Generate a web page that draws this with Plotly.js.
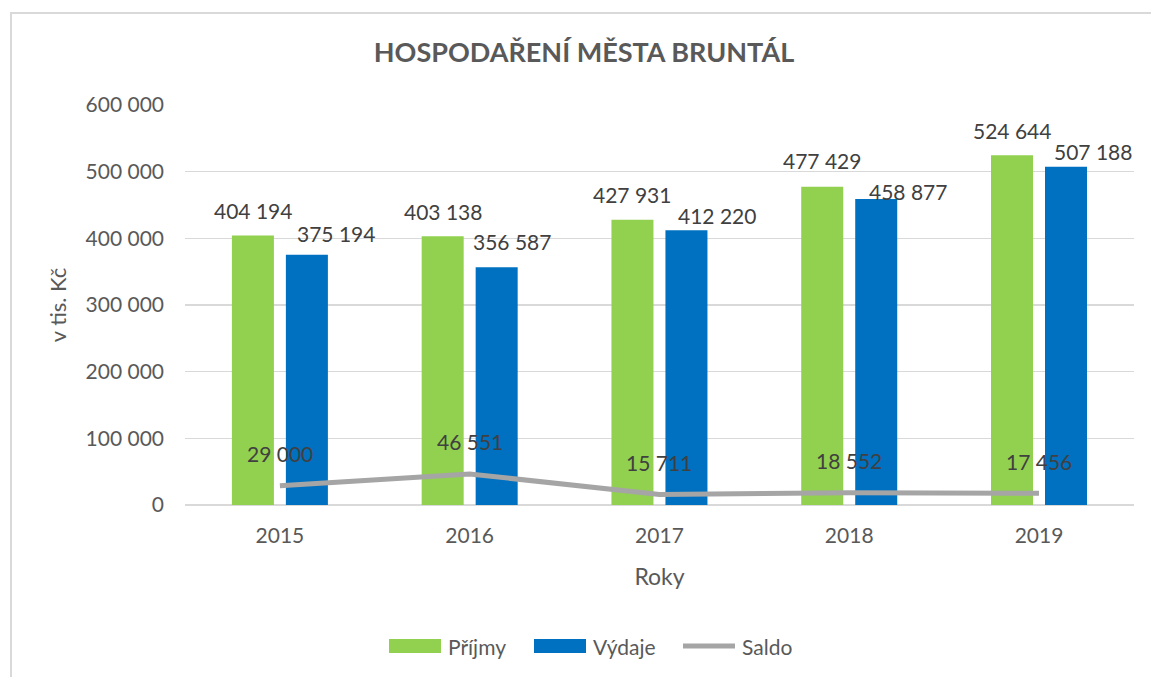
<!DOCTYPE html>
<html>
<head>
<meta charset="utf-8">
<script src="https://cdn.plot.ly/plotly-3.0.1.min.js"></script>
<style>
  html, body { margin: 0; padding: 0; background: #fff; overflow: hidden; }
  #wrap { position: relative; width: 1151px; height: 677px; }
  #chart { width: 1151px; height: 677px; }
  #frame { position: absolute; left: 10px; top: 12px; width: 1200px; height: 700px;
           border-left: 2px solid #D9D9D9; border-top: 2px solid #D9D9D9; pointer-events: none; }
</style>
</head>
<body>
<div id="wrap">
  <div id="chart"></div>
  <div id="frame"></div>
</div>
<script>
// ---- data ----
const years  = ['2015', '2016', '2017', '2018', '2019'];
const prijmy = [404194, 403138, 427931, 477429, 524644];
const vydaje = [375194, 356587, 412220, 458877, 507188];
const saldo  = [29000, 46551, 15711, 18552, 17456];
const yTicks = [0, 100000, 200000, 300000, 400000, 500000, 600000];
const seriesNames = ['Příjmy', 'Výdaje', 'Saldo'];

// ---- styling / label placement (not data) ----
const FONT = 'Lato, "Open Sans", sans-serif';
const GREEN = '#92D050', BLUE = '#0070C0', GRAY = '#A5A5A5';
const M = { l: 185, r: 17, t: 105, b: 172 };
const W = 1151, H = 677;
const PW = W - M.l - M.r, PH = H - M.t - M.b;
const bargap = 0.431, bargroupgap = 0.222;
const barOffset = (1 - bargap) / 4;            // category units, centre of each bar in its group
const greenLabelShift = [25, 25, 25, 26, 24.5];
const blueLabelShiftY = [21, 26, 15, 8, 15.5];
const blueLabelShiftX = [29, 15, 31, 32, 27];
const saldoLabelShift = 32;

function fmt(v) { return String(v).replace(/\B(?=(\d{3})+(?!\d))/g, ' '); }
function px2x(px) { return (px - M.l) / PW; }
function px2y(py) { return (H - M.b - py) / PH; }

const traces = [
  { type: 'bar', name: seriesNames[0], x: years, y: prijmy, marker: { color: GREEN }, hoverinfo: 'skip' },
  { type: 'bar', name: seriesNames[1], x: years, y: vydaje, marker: { color: BLUE }, hoverinfo: 'skip' },
  { type: 'scatter', mode: 'lines', name: seriesNames[2], x: years, y: saldo,
    line: { color: GRAY, width: 5 }, hoverinfo: 'skip' }
];

const labelFont = { family: FONT, size: 21, color: '#404040' };
const annotations = [];
years.forEach((yr, i) => {
  annotations.push({ x: i - barOffset, y: prijmy[i], xref: 'x', yref: 'y', text: fmt(prijmy[i]),
    showarrow: false, yanchor: 'middle', xanchor: 'center', yshift: greenLabelShift[i], font: labelFont });
  annotations.push({ x: i + barOffset, y: vydaje[i], xref: 'x', yref: 'y', text: fmt(vydaje[i]),
    showarrow: false, yanchor: 'middle', xanchor: 'center', yshift: blueLabelShiftY[i],
    xshift: blueLabelShiftX[i], font: labelFont });
  annotations.push({ x: i, y: saldo[i], xref: 'x', yref: 'y', text: fmt(saldo[i]),
    showarrow: false, yanchor: 'middle', xanchor: 'center', yshift: saldoLabelShift, font: labelFont });
});

// ---- custom legend (Excel-style wide keys) ----
const legY = 646;
const legendItems = [
  { kind: 'rect', color: GREEN, x0: 389, x1: 441, tx: 446 },
  { kind: 'rect', color: BLUE,  x0: 534, x1: 586, tx: 591 },
  { kind: 'line', color: GRAY,  x0: 683, x1: 735, tx: 740 }
];
const shapes = [];
legendItems.forEach((it, i) => {
  if (it.kind === 'rect') {
    shapes.push({ type: 'rect', xref: 'paper', yref: 'paper',
      x0: px2x(it.x0), x1: px2x(it.x1), y0: px2y(legY + 7), y1: px2y(legY - 7),
      fillcolor: it.color, line: { width: 0 } });
  } else {
    shapes.push({ type: 'line', xref: 'paper', yref: 'paper',
      x0: px2x(it.x0), x1: px2x(it.x1), y0: px2y(legY), y1: px2y(legY),
      line: { color: it.color, width: 5 } });
  }
  annotations.push({ xref: 'paper', yref: 'paper', x: px2x(it.tx), y: px2y(legY),
    xanchor: 'left', yanchor: 'middle', showarrow: false, text: seriesNames[i],
    font: { family: FONT, size: 21, color: '#595959' } });
});

const layout = {
  width: W, height: H,
  margin: { l: M.l, r: M.r, t: M.t, b: M.b, pad: 0 },
  paper_bgcolor: '#ffffff', plot_bgcolor: '#ffffff',
  separators: ', ',
  font: { family: FONT, size: 21, color: '#595959' },
  title: { text: '<b>HOSPODAŘENÍ MĚSTA BRUNTÁL</b>', xref: 'container', yref: 'container',
           x: 584 / W, xanchor: 'center', y: 1 - 53 / H, yanchor: 'middle',
           font: { family: FONT, size: 27, color: '#595959' } },
  barmode: 'group', bargap: bargap, bargroupgap: bargroupgap,
  xaxis: {
    type: 'category', showgrid: false, zeroline: false, showline: false, ticks: '',
    ticklabelstandoff: 16,
    tickfont: { family: FONT, size: 21, color: '#595959' },
    title: { text: 'Roky', standoff: 22, font: { family: FONT, size: 23, color: '#595959' } }
  },
  yaxis: {
    range: [0, 600000], tickvals: yTicks, ticktext: yTicks.map(fmt),
    showgrid: true, gridcolor: '#D9D9D9', gridwidth: 1.5,
    zeroline: true, zerolinecolor: '#D9D9D9', zerolinewidth: 1.5,
    showline: false, ticks: '', ticklabelstandoff: 20,
    tickfont: { family: FONT, size: 21, color: '#595959' },
    title: { text: 'v tis. Kč', standoff: 12, font: { family: FONT, size: 22, color: '#595959' } }
  },
  showlegend: false,
  shapes: shapes,
  annotations: annotations
};

Plotly.newPlot('chart', traces, layout, { displayModeBar: false, staticPlot: true });
</script>
</body>
</html>
